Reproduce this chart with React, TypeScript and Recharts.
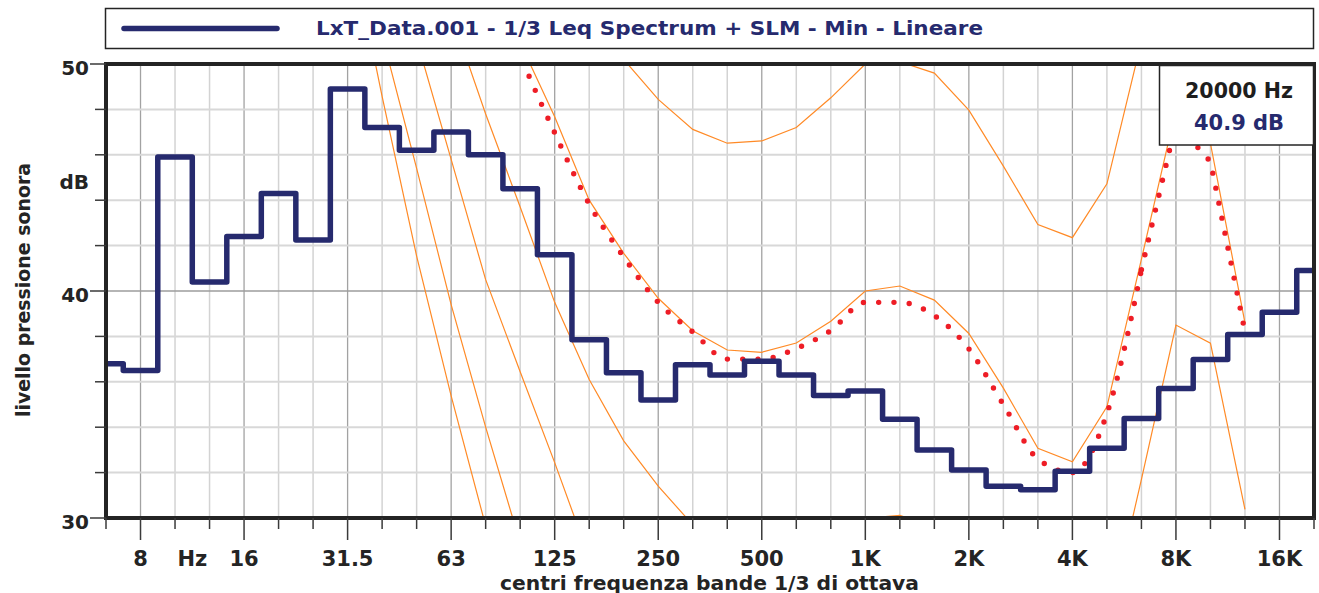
import React from 'react';
import { LineChart, Line, XAxis, YAxis, ReferenceLine, ReferenceArea } from 'recharts';

// 1/3 octave band centres (index 0..35)
const BANDS = ['6.3','8','10','12.5','16','20','25','31.5','40','50','63','80','100','125','160','200','250','315','400','500','630','800','1K','1.25K','1.6K','2K','2.5K','3.15K','4K','5K','6.3K','8K','10K','12.5K','16K','20K'];

// tick labels on the frequency axis (band index -> text)
const X_TICK_LABELS: Record<number, string> = { 1: '8', 2.5: 'Hz', 4: '16', 7: '31.5', 10: '63', 13: '125', 16: '250', 19: '500', 22: '1K', 25: '2K', 28: '4K', 31: '8K', 34: '16K' };
const OCTAVE_INDEX = [1, 4, 7, 10, 13, 16, 19, 22, 25, 28, 31, 34];
const Y_TICKS = [30, 32, 34, 36, 38, 40, 42, 44, 46, 48, 50];
const Y_GRID = [32, 34, 36, 38, 40, 42, 44, 46, 48];
const DB_LABEL_POS = 44.8;

// LxT Leq spectrum, Min, linear (dB)
const LEQ_MIN = [36.8, 36.5, 45.9, 40.4, 42.4, 44.3, 42.25, 48.9, 47.2, 46.2, 47.0, 46.0, 44.5, 41.6, 37.85, 36.4, 35.2, 36.75, 36.3, 36.9, 36.3, 35.4, 35.6, 34.35, 33.0, 32.12, 31.4, 31.25, 32.06, 33.07, 34.38, 35.7, 36.98, 38.08, 39.06, 40.9];

const N = null;
// orange reference curves (dB per band, null = not drawn)
const CURVE_A = [N, N, N, N, N, N, N, N, N, N, N, N, N, N, 52.6, 50.2, 48.44, 47.12, 46.51, 46.61, 47.2, 48.51, 50.0, 50.1, 49.6, 47.97, 45.5, 42.93, 42.35, 44.72, 51.0, 57.5, 56.5, 48.5, N, N];
const CURVE_B = [N, N, N, N, N, N, N, N, N, N, N, 55.0, 50.94, 47.68, 44.0, 41.66, 39.68, 38.25, 37.4, 37.3, 37.71, 38.67, 40.0, 40.22, 39.6, 38.13, 35.72, 33.07, 32.48, 34.9, 41.4, 48.0, 46.5, 38.6, N, N];
const CURVE_C = [N, N, N, N, N, N, N, N, N, N, 52.2, 47.8, 43.7, 39.5, 36.1, 33.4, 31.4, 29.7, 28.4, 28.3, 28.7, 29.3, 29.98, 30.12, 29.6, 28.1, 25.7, 23.1, 22.5, 25.1, 31.7, 38.5, 37.7, 30.38, N, N];
const CURVE_D = [N, N, N, N, N, N, N, N, 58.0, 51.08, 45.8, 40.5, 36.44, 32.44, 28.25, 24.5, N, N, N, N, N, N, N, N, N, N, N, N, N, N, N, N, N, N, N, N];
const CURVE_E = [N, N, N, N, N, N, N, 58.0, 51.26, 45.4, 39.4, 34.0, 28.9, 24.0, N, N, N, N, N, N, N, N, N, N, N, N, N, N, N, N, N, N, N, N, N, N];
const CURVE_F = [N, N, N, N, N, N, N, 56.0, 48.57, 41.54, 35.38, 29.65, 24.5, N, N, N, N, N, N, N, N, N, N, N, N, N, N, N, N, N, N, N, N, N, N, N];
// red dotted curve
const RED_CURVE = [N, N, N, N, N, N, N, N, N, N, N, 54.5, 50.4, 46.97, 43.83, 41.5, 39.5, 38.2, 37.0, 37.0, 37.47, 38.26, 39.5, 39.5, 38.92, 37.45, 35.0, 32.6, 32.0, 34.6, 40.94, 47.4, 45.7, 38.2, N, N];
const RED_SMOOTH_END = 30;

const LEGEND_TEXT = 'LxT_Data.001 - 1/3 Leq Spectrum + SLM - Min - Lineare';
const INFO_FREQ = '20000 Hz';
const INFO_LEVEL = '40.9 dB';
const Y_TITLE = 'livello pressione sonora';
const X_TITLE = 'centri frequenza bande 1/3 di ottava';

const FONT = '"DejaVu Sans", Verdana, sans-serif';
const NAVY = '#262a6e';
const ORANGE = '#ff8a26';
const RED = '#ee1d26';
const DARK = '#242424';

function seriesData(values: (number | null)[], from = 0, to = values.length - 1) {
  const out: { i: number; v: number }[] = [];
  values.forEach((v, i) => {
    if (v !== null && i >= from && i <= to) out.push({ i, v });
  });
  return out;
}

const X_TICKS = [...BANDS.map((_, i) => i), 2.5];

const XTick = (props: any) => {
  const { x, y, payload } = props;
  const v = payload.value as number;
  const label = X_TICK_LABELS[v];
  const isBand = Number.isInteger(v);
  const major = OCTAVE_INDEX.includes(v);
  return (
    <g>
      {isBand && (
        <line x1={x} x2={x} y1={y} y2={y + (major ? 22 : 11)} stroke="#3a3a3a" strokeWidth={1.5} />
      )}
      {label && (
        <text x={x} y={y + 48} textAnchor="middle" fontFamily={FONT} fontWeight="bold" fontSize={21} fill={DARK}>
          {label}
        </text>
      )}
    </g>
  );
};

const YTick = (props: any) => {
  const { x, y, payload } = props;
  const v = payload.value as number;
  if (v === DB_LABEL_POS) {
    return (
      <text x={x - 17} y={y + 6.5} textAnchor="end" fontFamily={FONT} fontWeight="bold" fontSize={20} fill={DARK}>
        dB
      </text>
    );
  }
  const major = v % 10 === 0;
  return (
    <g>
      <line x1={x - (major ? 16 : 11)} x2={x} y1={y} y2={y} stroke="#3a3a3a" strokeWidth={1.5} />
      {major && (
        <text x={x - 17} y={y + 10.5} textAnchor="end" fontFamily={FONT} fontWeight="bold" fontSize={20} fill={DARK}>
          {v}
        </text>
      )}
    </g>
  );
};

const orangeCurves = [CURVE_A, CURVE_B, CURVE_C, CURVE_D, CURVE_E, CURVE_F];

export default function App() {
  return (
    <div style={{ position: 'absolute', left: 0, top: 0, width: 1319, height: 593, background: '#fff' }}>
      <LineChart width={1319} height={593} margin={{ top: 64, right: 5, bottom: 0, left: 105 }}>
        <XAxis
          type="number"
          dataKey="i"
          scale="linear"
          domain={[0, 35]}
          allowDataOverflow
          ticks={X_TICKS}
          interval={0}
          tick={(p: any) => <XTick {...p} />}
          tickLine={false}
          axisLine={false}
          tickSize={0}
          tickMargin={0}
          height={75}
        />
        <YAxis
          type="number"
          domain={[30, 50]}
          allowDataOverflow
          ticks={[...Y_TICKS, DB_LABEL_POS]}
          interval={0}
          tick={(p: any) => <YTick {...p} />}
          tickLine={false}
          axisLine={false}
          tickSize={0}
          tickMargin={0}
          width={1}
        />
        {BANDS.map((_, i) =>
          i > 0 && i < BANDS.length - 1 ? (
            <ReferenceLine
              key={'gx' + i}
              x={i}
              stroke={OCTAVE_INDEX.includes(i) ? '#a2a2a2' : '#d3d3d3'}
              strokeWidth={OCTAVE_INDEX.includes(i) ? 1.3 : 1.5}
              zIndex={-100}
            />
          ) : null
        )}
        {Y_GRID.map((v) => (
          <ReferenceLine
            key={'gy' + v}
            y={v}
            stroke={v === 40 ? '#9c9c9c' : '#d8d8d8'}
            strokeWidth={v === 40 ? 1.3 : 2}
            zIndex={-100}
          />
        ))}
        {orangeCurves.map((c, k) => (
          <Line
            key={'o' + k}
            data={seriesData(c)}
            dataKey="v"
            type="linear"
            stroke={ORANGE}
            strokeWidth={1.2}
            dot={false}
            activeDot={false}
            isAnimationActive={false}
            zIndex={400}
          />
        ))}
        <Line
          data={seriesData(RED_CURVE, 0, RED_SMOOTH_END)}
          dataKey="v"
          type="monotone"
          stroke={RED}
          strokeWidth={5.4}
          strokeDasharray="0 15.3"
          strokeLinecap="round"
          dot={false}
          activeDot={false}
          isAnimationActive={false}
          zIndex={401}
        />
        <Line
          data={seriesData(RED_CURVE, RED_SMOOTH_END)}
          dataKey="v"
          type="linear"
          stroke={RED}
          strokeWidth={5.4}
          strokeDasharray="0 15.3"
          strokeLinecap="round"
          dot={false}
          activeDot={false}
          isAnimationActive={false}
          zIndex={401}
        />
        <Line
          data={seriesData(LEQ_MIN)}
          dataKey="v"
          type="step"
          stroke={NAVY}
          strokeWidth={5.5}
          strokeLinejoin="round"
          strokeLinecap="round"
          dot={false}
          activeDot={false}
          isAnimationActive={false}
          zIndex={402}
        />
        <ReferenceArea
          x1={0}
          x2={35}
          y1={30}
          y2={50}
          fill="none"
          fillOpacity={0}
          stroke={DARK}
          strokeWidth={4}
          ifOverflow="visible"
          zIndex={1000}
        />
      </LineChart>
      <svg
        width={1319}
        height={593}
        style={{ position: 'absolute', left: 0, top: 0, pointerEvents: 'none' }}
      >
        <rect x={105.5} y={8.5} width={1208} height={40} fill="#fff" stroke={DARK} strokeWidth={1.5} />
        <line x1={124} x2={277} y1={28.5} y2={28.5} stroke={NAVY} strokeWidth={5.5} strokeLinecap="round" />
        <text x={316} y={34.5} textLength={667} lengthAdjust="spacingAndGlyphs" fontFamily={FONT} fontWeight="bold" fontSize={20} fill={NAVY}>
          {LEGEND_TEXT}
        </text>
        <text
          x={709.5}
          y={589.5}
          textAnchor="middle"
          textLength={419}
          lengthAdjust="spacingAndGlyphs"
          fontFamily={FONT}
          fontWeight="bold"
          fontSize={19}
          fill={DARK}
        >
          {X_TITLE}
        </text>
        <text
          x={0}
          y={0}
          transform="translate(30 290) rotate(-90)"
          textAnchor="middle"
          textLength={254}
          lengthAdjust="spacingAndGlyphs"
          fontFamily={FONT}
          fontWeight="bold"
          fontSize={19}
          fill={DARK}
        >
          {Y_TITLE}
        </text>
        <rect x={1159.5} y={65.5} width={154} height={79.5} fill="#fff" stroke={DARK} strokeWidth={1.5} />
        <text x={1239} y={97.5} textAnchor="middle" textLength={108} lengthAdjust="spacingAndGlyphs" fontFamily={FONT} fontWeight="bold" fontSize={22} fill="#1e1e1e">
          {INFO_FREQ}
        </text>
        <text x={1239} y={130} textAnchor="middle" textLength={90} lengthAdjust="spacingAndGlyphs" fontFamily={FONT} fontWeight="bold" fontSize={22} fill={NAVY}>
          {INFO_LEVEL}
        </text>
      </svg>
    </div>
  );
}
